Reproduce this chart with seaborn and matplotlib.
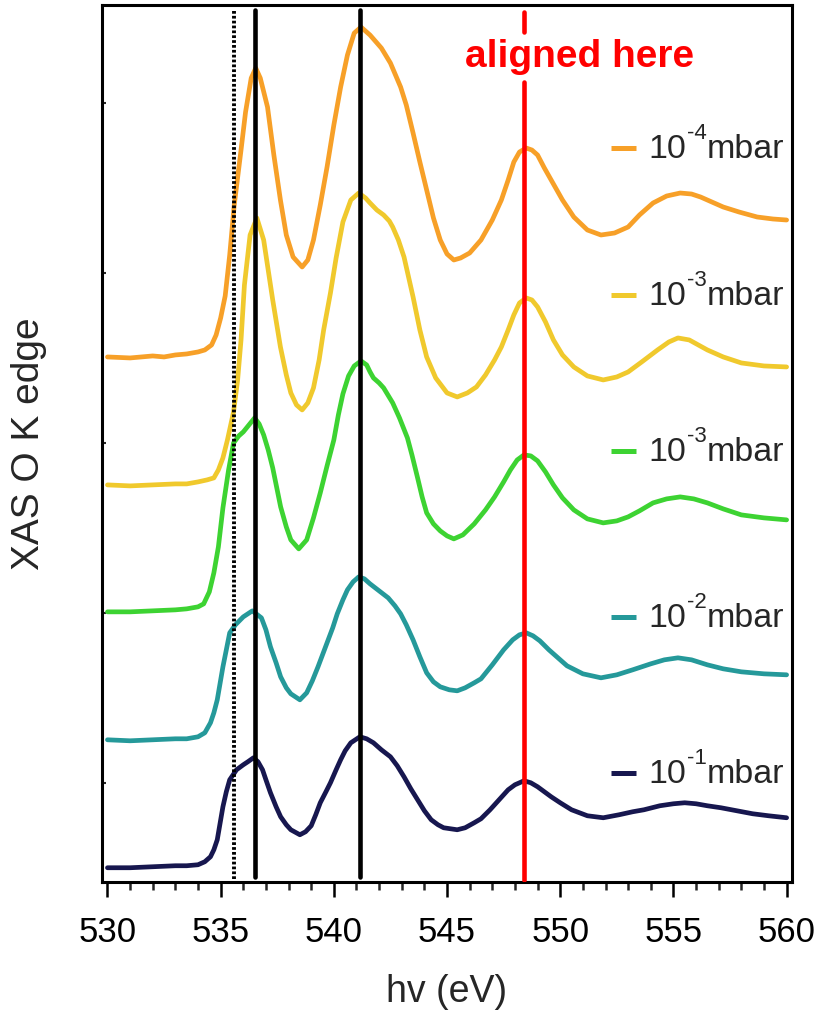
import matplotlib
matplotlib.use("Agg")
import matplotlib.pyplot as plt
import seaborn as sns
import pandas as pd
from matplotlib.ticker import MultipleLocator

# ---------------- data ----------------
orange_ev = [530.0, 531.0, 532.0, 532.5, 533.0, 533.5, 534.0, 534.3, 534.6, 534.8, 535.0, 535.2, 535.4, 535.6, 535.9,
             536.1, 536.35, 536.55, 536.75, 537.07, 537.35, 537.64, 537.9, 538.2, 538.6, 538.85, 539.1, 539.4, 539.7,
             540.0, 540.3, 540.6, 540.9, 541.2, 541.6, 542.1, 542.5, 542.95, 543.2, 543.5, 543.8, 544.1, 544.4, 544.7,
             545.0, 545.3, 545.6, 546.0, 546.5, 547.0, 547.4, 547.7, 547.95, 548.2, 548.5, 548.75, 549.0, 549.3, 549.6,
             550.1, 550.6, 551.2, 551.8, 552.4, 553.0, 553.5, 554.1, 554.7, 555.3, 555.8, 556.2, 556.7, 557.2, 557.9,
             558.7, 559.4, 560.0]
orange_int = [525, 524, 526, 525, 527, 528, 530, 532, 537, 547, 564, 586, 627, 677, 732,
              770, 804, 814, 804, 775, 727, 682, 647, 625, 615, 622, 642, 677, 715,
              757, 795, 827, 849, 855, 847, 834, 819, 795, 777, 749, 720, 692, 664, 642,
              628, 622, 624, 629, 642, 662, 682, 702, 720, 730, 734, 732, 727, 714, 702,
              682, 665, 652, 647, 649, 655, 667, 679, 686, 689, 688, 685, 680, 675, 670,
              665, 663, 662]

yellow_ev = [530.0, 531.0, 532.0, 533.0, 533.5, 534.0, 534.4, 534.7, 534.9, 535.1, 535.3, 535.57, 535.75, 535.9,
             536.05, 536.3, 536.6, 536.9, 537.1, 537.3, 537.64, 537.9, 538.1, 538.35, 538.6, 538.85, 539.1, 539.35,
             539.55, 539.85, 540.1, 540.4, 540.75, 541.1, 541.4, 541.6, 541.9, 542.2, 542.45, 542.6, 542.85, 543.1,
             543.5, 543.8, 544.1, 544.5, 545.0, 545.45, 545.9, 546.3, 546.7, 547.1, 547.4, 547.7, 547.95, 548.2,
             548.5, 548.75, 549.0, 549.35, 549.7, 550.1, 550.6, 551.2, 551.9, 552.5, 553.0, 553.6, 554.3, 554.8,
             555.2, 555.7, 556.5, 557.2, 558.0, 559.0, 560.0]
yellow_int = [397, 396, 397, 398, 398, 400, 402, 404, 412, 424, 442, 470, 502, 542,
              597, 647, 664, 642, 612, 582, 535, 507, 489, 477, 472, 479, 494, 522,
              552, 589, 624, 660, 682, 689, 684, 679, 672, 667, 661, 655, 642, 625,
              585, 552, 525, 504, 489, 485, 489, 495, 507, 522, 535, 552, 567, 579,
              584, 582, 575, 560, 542, 527, 515, 506, 502, 505, 510, 520, 532, 540,
              544, 542, 532, 525, 519, 516, 515]

green_ev = [530.0, 531.0, 532.0, 533.0, 533.5, 534.0, 534.25, 534.5, 534.7, 534.9, 535.1, 535.35, 535.57, 535.8,
            536.0, 536.25, 536.5, 536.7, 536.9, 537.1, 537.3, 537.65, 537.9, 538.1, 538.45, 538.8, 539.1, 539.4,
            539.7, 540.0, 540.2, 540.4, 540.65, 540.9, 541.2, 541.45, 541.6, 541.75, 542.0, 542.2, 542.6, 542.9,
            543.25, 543.45, 543.7, 543.9, 544.1, 544.4, 544.7, 545.0, 545.3, 545.7, 546.2, 546.7, 547.1, 547.5,
            547.8, 548.1, 548.4, 548.7, 549.0, 549.35, 549.7, 550.1, 550.6, 551.2, 551.9, 552.5, 553.0, 553.5,
            554.1, 554.7, 555.3, 555.9, 556.5, 557.2, 558.0, 559.0, 560.0]
green_int = [270, 270, 271, 272, 273, 275, 278, 290, 309, 335, 374, 412, 439, 446,
             450, 457, 464, 458, 447, 432, 414, 375, 355, 342, 333, 342, 364, 389,
             416, 442, 467, 488, 506, 516, 521, 517, 510, 504, 499, 494, 479, 464,
             444, 427, 404, 385, 369, 358, 351, 346, 343, 347, 358, 372, 385, 400,
             412, 422, 427, 426, 421, 410, 397, 384, 372, 363, 359, 361, 365, 371,
             379, 383, 385, 383, 379, 373, 367, 364, 362]

teal_ev = [530.0, 531.0, 532.0, 533.0, 533.5, 534.0, 534.3, 534.55, 534.7, 534.85, 535.1, 535.4, 535.65, 536.0,
           536.4, 536.8, 537.0, 537.2, 537.45, 537.65, 537.9, 538.1, 538.5, 538.8, 539.05, 539.3, 539.7, 539.95,
           540.15, 540.4, 540.6, 540.85, 541.1, 541.35, 541.6, 542.0, 542.4, 542.7, 542.95, 543.2, 543.5, 543.8,
           544.1, 544.4, 544.7, 545.1, 545.45, 545.8, 546.2, 546.5, 547.0, 547.5, 547.9, 548.2, 548.5, 548.8,
           549.1, 549.5, 549.9, 550.3, 551.0, 551.8, 552.5, 553.2, 554.0, 554.6, 555.2, 555.8, 556.5, 557.2,
           558.0, 559.0, 560.0]
teal_int = [142, 141, 142, 143, 143, 145, 149, 159, 169, 182, 215, 249, 257, 265,
            271, 264, 252, 235, 219, 205, 194, 188, 182, 189, 201, 215, 239, 254,
            268, 282, 292, 300, 305, 303, 298, 291, 284, 276, 268, 257, 242, 225,
            209, 200, 195, 192, 191, 194, 199, 203, 217, 232, 242, 247, 249, 246,
            241, 232, 224, 216, 208, 204, 207, 212, 218, 222, 224, 222, 217, 213,
            210, 208, 207]

navy_ev = [530.0, 531.0, 532.0, 533.0, 533.5, 534.0, 534.3, 534.55, 534.7, 534.85, 535.1, 535.25, 535.4, 535.7,
           536.0, 536.2, 536.45, 536.65, 536.85, 537.0, 537.2, 537.45, 537.65, 537.9, 538.1, 538.5, 538.75, 539.0,
           539.2, 539.4, 539.65, 539.85, 540.1, 540.3, 540.5, 540.75, 541.15, 541.45, 541.75, 542.1, 542.5, 542.8,
           543.1, 543.4, 543.7, 544.0, 544.3, 544.6, 544.85, 545.45, 545.8, 546.2, 546.5, 546.9, 547.3, 547.7,
           548.0, 548.4, 548.7, 549.0, 549.3, 549.6, 550.0, 550.5, 551.2, 551.9, 552.6, 553.2, 553.7, 554.4,
           555.0, 555.5, 556.0, 556.5, 557.1, 557.8, 558.5, 559.2, 560.0]
navy_int = [14, 14, 15, 16, 16, 17, 20, 25, 32, 42, 75, 90, 102, 112,
            117, 120, 124, 120, 112, 102, 89, 75, 65, 57, 52, 47, 50, 56,
            67, 79, 90, 99, 112, 122, 131, 139, 145, 143, 139, 132, 125, 116,
            105, 93, 82, 71, 62, 57, 54, 52, 54, 59, 63, 72, 82, 92,
            97, 101, 99, 95, 90, 85, 79, 72, 66, 64, 67, 70, 72, 76,
            78, 79, 78, 76, 74, 71, 68, 66, 64]

series_names = ["1e-4 mbar", "1e-3 mbar (a)", "1e-3 mbar (b)", "1e-2 mbar", "1e-1 mbar"]
legend_base = ["10", "10", "10", "10", "10"]
legend_exp = ["-4", "-3", "-3", "-2", "-1"]
legend_unit = "mbar"
colors = ["#F7A028", "#F0C92D", "#3DD332", "#25999A", "#17174F"]

ref_lines_black = [536.5, 541.15]
ref_line_dotted = 535.57
ref_line_red = 548.4
annot_text = "aligned here"

xticks = [530, 535, 540, 545, 550, 555, 560]

# ---------------- build table ----------------
all_ev = [orange_ev, yellow_ev, green_ev, teal_ev, navy_ev]
all_int = [orange_int, yellow_int, green_int, teal_int, navy_int]
frames = []
for name, ev, it in zip(series_names, all_ev, all_int):
    frames.append(pd.DataFrame({"ev": ev, "intensity": it, "series": name}))
df = pd.concat(frames, ignore_index=True)

# ---------------- plot ----------------
sns.set_theme(style="ticks")
plt.rcParams["font.family"] = ["Liberation Sans", "DejaVu Sans"]

fig = plt.figure(figsize=(8.21, 10.17), dpi=100)
ax = fig.add_axes([0.124, 0.133, 0.841, 0.862])

sns.lineplot(data=df, x="ev", y="intensity", hue="series", palette=colors,
             hue_order=series_names, estimator=None, sort=False, lw=3.4,
             legend=False, ax=ax)
for ln in ax.get_lines():
    ln.set_solid_joinstyle("round")
    ln.set_solid_capstyle("round")

for xv in ref_lines_black:
    ax.axvline(xv, ymin=0.005, ymax=0.994, color="black", lw=3.3, zorder=5)
ax.axvline(ref_line_dotted, ymin=0.003, ymax=0.994, color="black", lw=2.8,
           linestyle=(0, (0.7, 0.55)), zorder=5)
ax.axvline(ref_line_red, ymin=0.002, ymax=0.912, color="#FF0000", lw=3.3, zorder=5)
ax.axvline(ref_line_red, ymin=0.969, ymax=0.992, color="#FF0000", lw=3.3, zorder=5)
ax.text(550.86, 0.929, annot_text, transform=ax.get_xaxis_transform(),
        color="#FF0000", fontsize=28, fontweight="bold", ha="center", va="baseline")

# legend-like labels
handle_y = [148, 295, 451, 617, 773]
for i, (c, b, e) in enumerate(zip(colors, legend_base, legend_exp)):
    yf = (882 - handle_y[i]) / 877
    ax.plot([0.737, 0.773], [yf, yf], color=c, lw=3.6, transform=ax.transAxes,
            solid_capstyle="butt", zorder=6)
    yb = (882 - handle_y[i] - 10) / 877
    t1 = ax.text(0.7916, yb, b, transform=ax.transAxes, fontsize=24.5,
                 ha="left", va="baseline", zorder=6)
    t2 = ax.annotate(e, xy=(1, 1), xycoords=t1, xytext=(0.5, 8),
                     textcoords="offset points", fontsize=16, ha="left", va="top", zorder=6)
    ax.annotate(legend_unit, xy=(1, 0), xycoords=(t2, t1), fontsize=24.5,
                ha="left", va="bottom", zorder=6)

ax.set_xlim(529.75, 560.25)
ax.set_ylim(0, 877)
ax.set_xticks(xticks)
ax.xaxis.set_minor_locator(MultipleLocator(1))
ax.set_yticks([99, 269, 439, 609, 779])
ax.set_yticklabels([])
ax.tick_params(axis="x", which="major", direction="out", length=11, width=1.8,
               labelsize=25, pad=14, colors="black")
ax.tick_params(axis="x", which="minor", direction="out", length=6, width=1.8)
ax.tick_params(axis="y", which="major", direction="in", length=3, width=1.5)
for s in ax.spines.values():
    s.set_linewidth(2.2)
    s.set_color("black")
    s.set_visible(True)

ax.set_xlabel("hv (eV)", fontsize=27, labelpad=18)
ax.set_ylabel("XAS O K edge", fontsize=28, labelpad=36)

fig.savefig("out.png", dpi=100)
